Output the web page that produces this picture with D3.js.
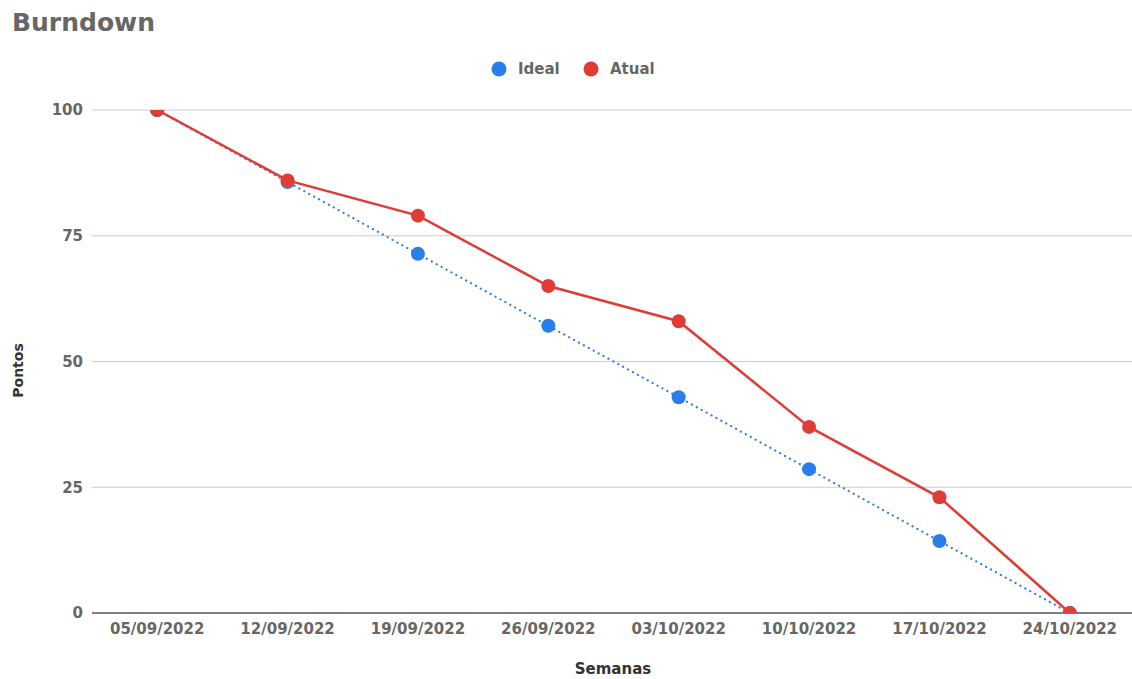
<!DOCTYPE html>
<html>
<head>
<meta charset="utf-8">
<script src="https://cdn.jsdelivr.net/npm/d3@7"></script>
<style>
  html, body { margin: 0; padding: 0; background: #fff; }
  svg { display: block; font-family: "DejaVu Sans", sans-serif; }
</style>
</head>
<body>
<div id="chart"></div>
<script>
// dados do gráfico
const semanas = ["05/09/2022", "12/09/2022", "19/09/2022", "26/09/2022",
                 "03/10/2022", "10/10/2022", "17/10/2022", "24/10/2022"];
const ideal = [100, 85.7, 71.4, 57.1, 42.9, 28.6, 14.3, 0];
const atual = [100, 86, 79, 65, 58, 37, 23, 0];
const yTicks = [0, 25, 50, 75, 100];

const FONT = "DejaVu Sans, sans-serif";
const width = 1132, height = 679;
const margin = { top: 110, right: -3, bottom: 66, left: 92 };

const svg = d3.select("#chart").append("svg")
  .attr("width", width)
  .attr("height", height);

const x = d3.scaleBand()
  .domain(semanas)
  .range([margin.left, width - margin.right]);

const y = d3.scaleLinear()
  .domain([0, 100])
  .range([height - margin.bottom, margin.top]);

// Título
svg.append("text")
  .attr("x", 12).attr("y", 31)
  .attr("font-size", 25).attr("font-weight", "bold")
  .attr("fill", "#666")
  .text("Burndown");

// Linhas de grade
svg.append("g")
  .selectAll("line")
  .data(yTicks.filter(d => d > 0)).enter().append("line")
  .attr("x1", margin.left).attr("x2", width)
  .attr("y1", d => y(d)).attr("y2", d => y(d))
  .attr("stroke", "#ccc").attr("stroke-width", 1);

// Eixo Y
const yAxis = svg.append("g")
  .attr("transform", `translate(${margin.left - 9},0)`)
  .call(d3.axisLeft(y).tickValues(yTicks).tickSize(0).tickPadding(0));
yAxis.select(".domain").remove();
yAxis.selectAll("text")
  .attr("font-size", 15).attr("font-weight", "bold")
  .attr("fill", "#666").attr("font-family", FONT);

// Eixo X
const xAxis = svg.append("g")
  .attr("transform", `translate(0,${y(0)})`)
  .call(d3.axisBottom(x).tickSize(0).tickPadding(10));
xAxis.select(".domain")
  .attr("stroke", "#555").attr("stroke-width", 1.5)
  .attr("d", `M${margin.left},0H${width}`);
xAxis.selectAll("text")
  .attr("font-size", 15).attr("font-weight", "bold")
  .attr("fill", "#666").attr("font-family", FONT);

// Títulos dos eixos
svg.append("text")
  .attr("x", 613).attr("y", 674)
  .attr("text-anchor", "middle")
  .attr("font-size", 15).attr("font-weight", "bold").attr("fill", "#333")
  .text("Semanas");
svg.append("text")
  .attr("transform", `translate(23,${(y(0) + y(100)) / 2 + 9}) rotate(-90)`)
  .attr("text-anchor", "middle")
  .attr("font-size", 14).attr("font-weight", "bold").attr("fill", "#333")
  .text("Pontos");

// Área de recorte
svg.append("clipPath").attr("id", "plot")
  .append("rect")
  .attr("x", margin.left).attr("y", y(100))
  .attr("width", width - margin.left).attr("height", y(0) - y(100));

const plot = svg.append("g").attr("clip-path", "url(#plot)");
const cx = i => x(semanas[i]) + x.bandwidth() / 2;

const line = d3.line()
  .x((d, i) => cx(i))
  .y(d => y(d));

// Linha ideal (pontilhada)
plot.append("path")
  .datum(ideal)
  .attr("fill", "none")
  .attr("stroke", "#2b7de9")
  .attr("stroke-width", 2.2)
  .attr("stroke-linecap", "round")
  .attr("stroke-dasharray", "0.1 5.5")
  .attr("d", line);

plot.selectAll("circle.ideal")
  .data(ideal).enter().append("circle")
  .attr("class", "ideal")
  .attr("cx", (d, i) => cx(i))
  .attr("cy", d => y(d))
  .attr("r", 7)
  .attr("fill", "#2b7de9");

// Linha atual
plot.append("path")
  .datum(atual)
  .attr("fill", "none")
  .attr("stroke", "#e03c36")
  .attr("stroke-width", 2.5)
  .attr("d", line);

plot.selectAll("circle.atual")
  .data(atual).enter().append("circle")
  .attr("class", "atual")
  .attr("cx", (d, i) => cx(i))
  .attr("cy", d => y(d))
  .attr("r", 7)
  .attr("fill", "#e03c36");

// Legenda
const legend = [
  { name: "Ideal", color: "#2b7de9", x: 499 },
  { name: "Atual", color: "#e03c36", x: 591 }
];
const lg = svg.append("g");
lg.selectAll("circle")
  .data(legend).enter().append("circle")
  .attr("cx", d => d.x).attr("cy", 69).attr("r", 7.5)
  .attr("fill", d => d.color);
lg.selectAll("text")
  .data(legend).enter().append("text")
  .attr("x", d => d.x + 19).attr("y", 74)
  .attr("font-size", 15).attr("font-weight", "bold").attr("fill", "#666")
  .text(d => d.name);
</script>
</body>
</html>
